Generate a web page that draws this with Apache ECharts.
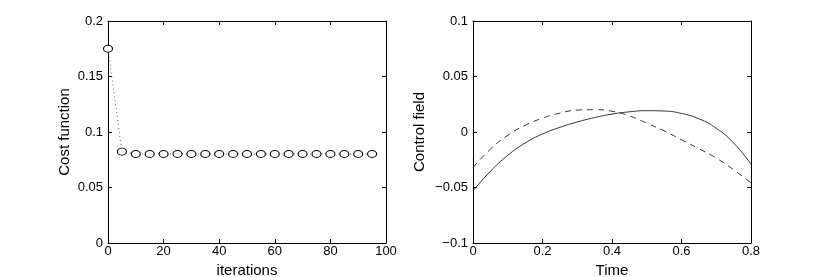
<!DOCTYPE html>
<html><head><meta charset="utf-8">
<script src="https://cdn.jsdelivr.net/npm/echarts@6/dist/echarts.min.js"></script>
<style>html,body{margin:0;padding:0;background:#fff}#c{width:830px;height:277px}</style>
</head><body><div id="c"></div>
<script>
// ---- data ----
const iterations = [0,5,10,15,20,25,30,35,40,45,50,55,60,65,70,75,80,85,90,95];
const costValues = [0.175,0.0823,0.0802,0.0802,0.0802,0.0802,0.0802,0.0802,0.0802,0.0802,0.0802,0.0802,0.0802,0.0802,0.0802,0.0802,0.0802,0.0802,0.0802,0.0802];
const timePoints = [0,0.05,0.1,0.15,0.2,0.25,0.3,0.35,0.4,0.45,0.5,0.55,0.6,0.65,0.7,0.75,0.8];
const controlSolid = [-0.053,-0.0355,-0.021,-0.010,-0.0018,0.0042,0.009,0.013,0.0161,0.0182,0.0192,0.0189,0.0167,0.0119,0.0034,-0.0099,-0.029];
const controlDashed = [-0.032,-0.0155,-0.003,0.006,0.0125,0.017,0.0197,0.0201,0.0187,0.0145,0.008,0.001,-0.007,-0.015,-0.0235,-0.034,-0.046];

const FONT = "'Liberation Sans', Arial, Helvetica, sans-serif";
const fmt = v => { const a = parseFloat(Math.abs(v).toFixed(4)); return (v < 0 ? '\u2212' : '') + a; };

function axis(gi, min, max, interval, opts) {
  const a = {
    type: 'value', gridIndex: gi, min: min, max: max, interval: interval,
    position: opts.position,
    axisLine: { show: true, onZero: false, lineStyle: { color: '#000', width: 1 } },
    axisTick: { show: true, inside: true, length: 4, lineStyle: { color: '#000' } },
    splitLine: { show: false },
    axisLabel: { show: !!opts.labels, color: '#000', fontFamily: FONT, fontSize: 13, margin: opts.margin || 5, formatter: fmt },
  };
  if (opts.name) {
    a.name = opts.name; a.nameLocation = 'middle'; a.nameGap = opts.nameGap;
    a.nameTextStyle = { color: '#000', fontFamily: FONT, fontSize: 15 };
  }
  return a;
}

const chart = echarts.init(document.getElementById('c'), null, { renderer: 'canvas' });
chart.setOption({
  backgroundColor: '#fff',
  animation: false,
  grid: [
    { left: 108, top: 21, width: 278, height: 222, outerBoundsMode: 'none', containLabel: false },
    { left: 473, top: 21, width: 278, height: 222, outerBoundsMode: 'none', containLabel: false }
  ],
  xAxis: [
    axis(0, 0, 100, 20, { position: 'bottom', labels: true, margin: 2, name: 'iterations', nameGap: 16 }),
    axis(0, 0, 100, 20, { position: 'top' }),
    axis(1, 0, 0.8, 0.2, { position: 'bottom', labels: true, margin: 2, name: 'Time', nameGap: 16 }),
    axis(1, 0, 0.8, 0.2, { position: 'top' })
  ],
  yAxis: [
    axis(0, 0, 0.2, 0.05, { position: 'left', labels: true, name: 'Cost function', nameGap: 36 }),
    axis(0, 0, 0.2, 0.05, { position: 'right' }),
    axis(1, -0.1, 0.1, 0.05, { position: 'left', labels: true, name: 'Control field', nameGap: 46 }),
    axis(1, -0.1, 0.1, 0.05, { position: 'right' })
  ],
  series: [
    {
      type: 'line', xAxisIndex: 0, yAxisIndex: 0, clip: false,
      data: iterations.map((x, i) => [x, costValues[i]]),
      lineStyle: { color: '#666', width: 1, type: [1, 3] },
      symbol: 'path://M0,5A5,5,0,1,1,10,5A5,5,0,1,1,0,5Z', symbolSize: [9, 7], showAllSymbol: true,
      itemStyle: { color: '#fff', borderColor: '#000', borderWidth: 1 }
    },
    {
      type: 'line', xAxisIndex: 2, yAxisIndex: 2, smooth: 0.5, symbol: 'none',
      data: timePoints.map((t, i) => [t, controlSolid[i]]),
      lineStyle: { color: '#333', width: 1 }
    },
    {
      type: 'line', xAxisIndex: 2, yAxisIndex: 2, smooth: 0.5, symbol: 'none',
      data: timePoints.map((t, i) => [t, controlDashed[i]]),
      lineStyle: { color: '#333', width: 1, type: [6, 5] }
    }
  ]
});
</script></body></html>
